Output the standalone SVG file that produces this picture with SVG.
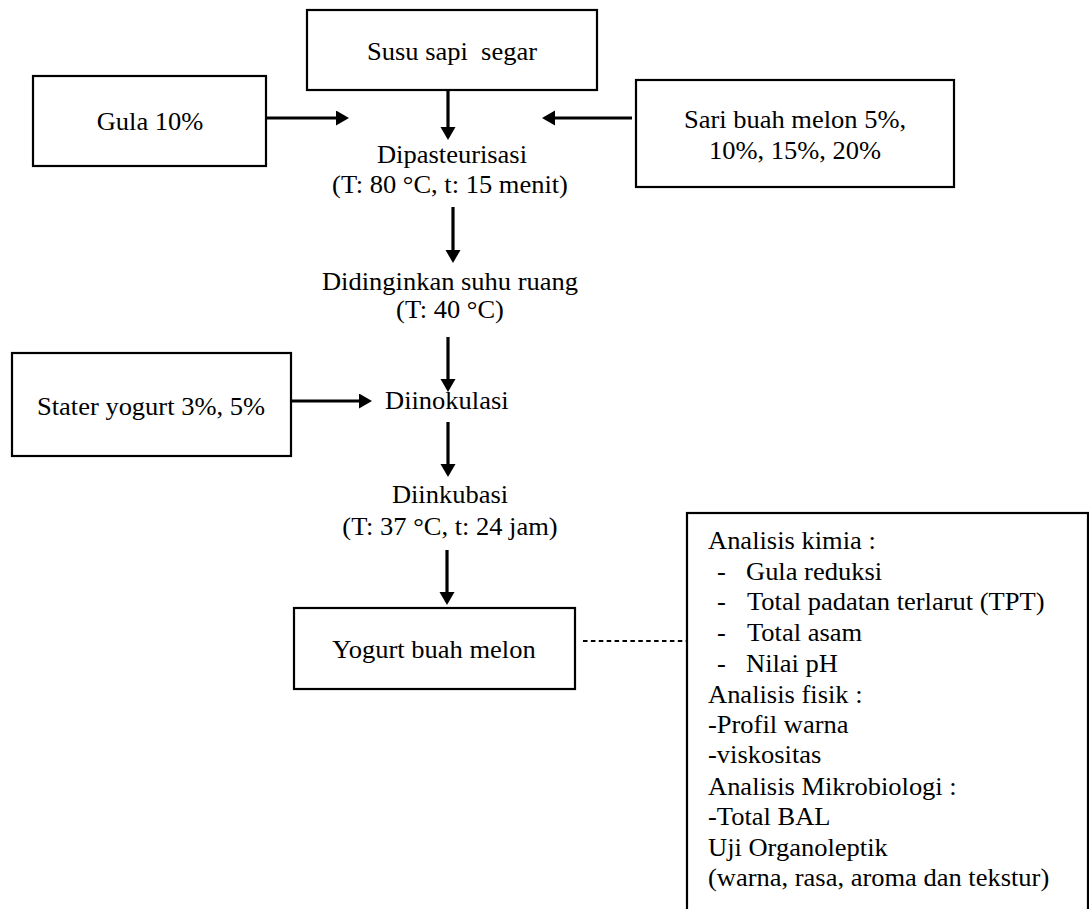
<svg xmlns="http://www.w3.org/2000/svg" width="1089" height="909" viewBox="0 0 1089 909">
<style>
  .box{fill:#fff;stroke:#000;stroke-width:2.2}
  .t{font-family:"Liberation Serif","Times New Roman",serif;font-size:25px;fill:#000}
  .c{text-anchor:middle}
  .conn line{stroke:#000;stroke-width:3.2}
  .conn line.dot{stroke-width:2;stroke-dasharray:4.5 3.4}
</style>
<defs>
  <marker id="ah" markerUnits="userSpaceOnUse" markerWidth="14" markerHeight="16" refX="3" refY="7.5" orient="auto">
    <path d="M0,0 L13,7.5 L0,15 z" fill="#000"/>
  </marker>
</defs>
<rect width="1089" height="909" fill="#fff"/>

<g id="susu">
  <rect class="box" x="307" y="10" width="290" height="80"/>
  <text class="t c" xml:space="preserve" transform="translate(452,60) scale(1.06,1)">Susu sapi  segar</text>
</g>
<g id="gula">
  <rect class="box" x="33" y="76" width="233" height="90"/>
  <text class="t c" transform="translate(150,130) scale(1.06,1)">Gula 10%</text>
</g>
<g id="sari">
  <rect class="box" x="636" y="80" width="318" height="107"/>
  <text class="t c" transform="translate(795,128) scale(1.06,1)">Sari buah melon 5%,</text>
  <text class="t c" transform="translate(795,159) scale(1.06,1)">10%, 15%, 20%</text>
</g>
<g id="pasteurisasi">
  <text class="t c" transform="translate(452,163) scale(1.06,1)">Dipasteurisasi</text>
  <text class="t c" transform="translate(450,193) scale(1.06,1)">(T: 80 °C, t: 15 menit)</text>
</g>
<g id="didinginkan">
  <text class="t c" transform="translate(450,290) scale(1.06,1)">Didinginkan suhu ruang</text>
  <text class="t c" transform="translate(450,318) scale(1.06,1)">(T: 40 °C)</text>
</g>
<g id="stater">
  <rect class="box" x="12" y="353" width="279" height="103"/>
  <text class="t c" transform="translate(151,415) scale(1.06,1)">Stater yogurt 3%, 5%</text>
</g>
<g id="inokulasi">
  <text class="t" transform="translate(385,409) scale(1.06,1)">Diinokulasi</text>
</g>
<g id="inkubasi">
  <text class="t c" transform="translate(450,503) scale(1.06,1)">Diinkubasi</text>
  <text class="t c" transform="translate(450,535) scale(1.06,1)">(T: 37 °C, t: 24 jam)</text>
</g>
<g id="yogurt">
  <rect class="box" x="294" y="608" width="281" height="81"/>
  <text class="t c" transform="translate(434,658) scale(1.06,1)">Yogurt buah melon</text>
</g>
<g id="analisis">
  <rect class="box" x="687" y="513" width="401" height="410"/>
  <text class="t" transform="translate(708,549) scale(1.06,1)">Analisis kimia :</text>
  <text class="t" transform="translate(717,580) scale(1.06,1)">-</text>
  <text class="t" transform="translate(746,580) scale(1.06,1)">Gula reduksi</text>
  <text class="t" transform="translate(717,610) scale(1.06,1)">-</text>
  <text class="t" transform="translate(747,610) scale(1.06,1)">Total padatan terlarut (TPT)</text>
  <text class="t" transform="translate(717,641) scale(1.06,1)">-</text>
  <text class="t" transform="translate(747,641) scale(1.06,1)">Total asam</text>
  <text class="t" transform="translate(717,672) scale(1.06,1)">-</text>
  <text class="t" transform="translate(746,672) scale(1.06,1)">Nilai pH</text>
  <text class="t" transform="translate(708,703) scale(1.06,1)">Analisis fisik :</text>
  <text class="t" transform="translate(708,733) scale(1.06,1)">-Profil warna</text>
  <text class="t" transform="translate(708,763) scale(1.06,1)">-viskositas</text>
  <text class="t" transform="translate(708,795) scale(1.06,1)">Analisis Mikrobiologi :</text>
  <text class="t" transform="translate(708,825) scale(1.06,1)">-Total BAL</text>
  <text class="t" transform="translate(708,856) scale(1.06,1)">Uji Organoleptik</text>
  <text class="t" transform="translate(708,886) scale(1.06,1)">(warna, rasa, aroma dan tekstur)</text>
</g>

<g id="connectors" class="conn">
  <line x1="448" y1="90" x2="448" y2="130" marker-end="url(#ah)"/>
  <line x1="266" y1="118" x2="339" y2="118" marker-end="url(#ah)"/>
  <line x1="632" y1="118" x2="552" y2="118" marker-end="url(#ah)"/>
  <line x1="453" y1="207" x2="453" y2="253" marker-end="url(#ah)"/>
  <line x1="448" y1="337" x2="448" y2="382" marker-end="url(#ah)"/>
  <line x1="292" y1="401" x2="362" y2="401" marker-end="url(#ah)"/>
  <line x1="448" y1="422" x2="448" y2="467" marker-end="url(#ah)"/>
  <line x1="447" y1="550" x2="447" y2="595" marker-end="url(#ah)"/>
  <line class="dot" x1="583" y1="641" x2="686" y2="641"/>
</g>
</svg>
